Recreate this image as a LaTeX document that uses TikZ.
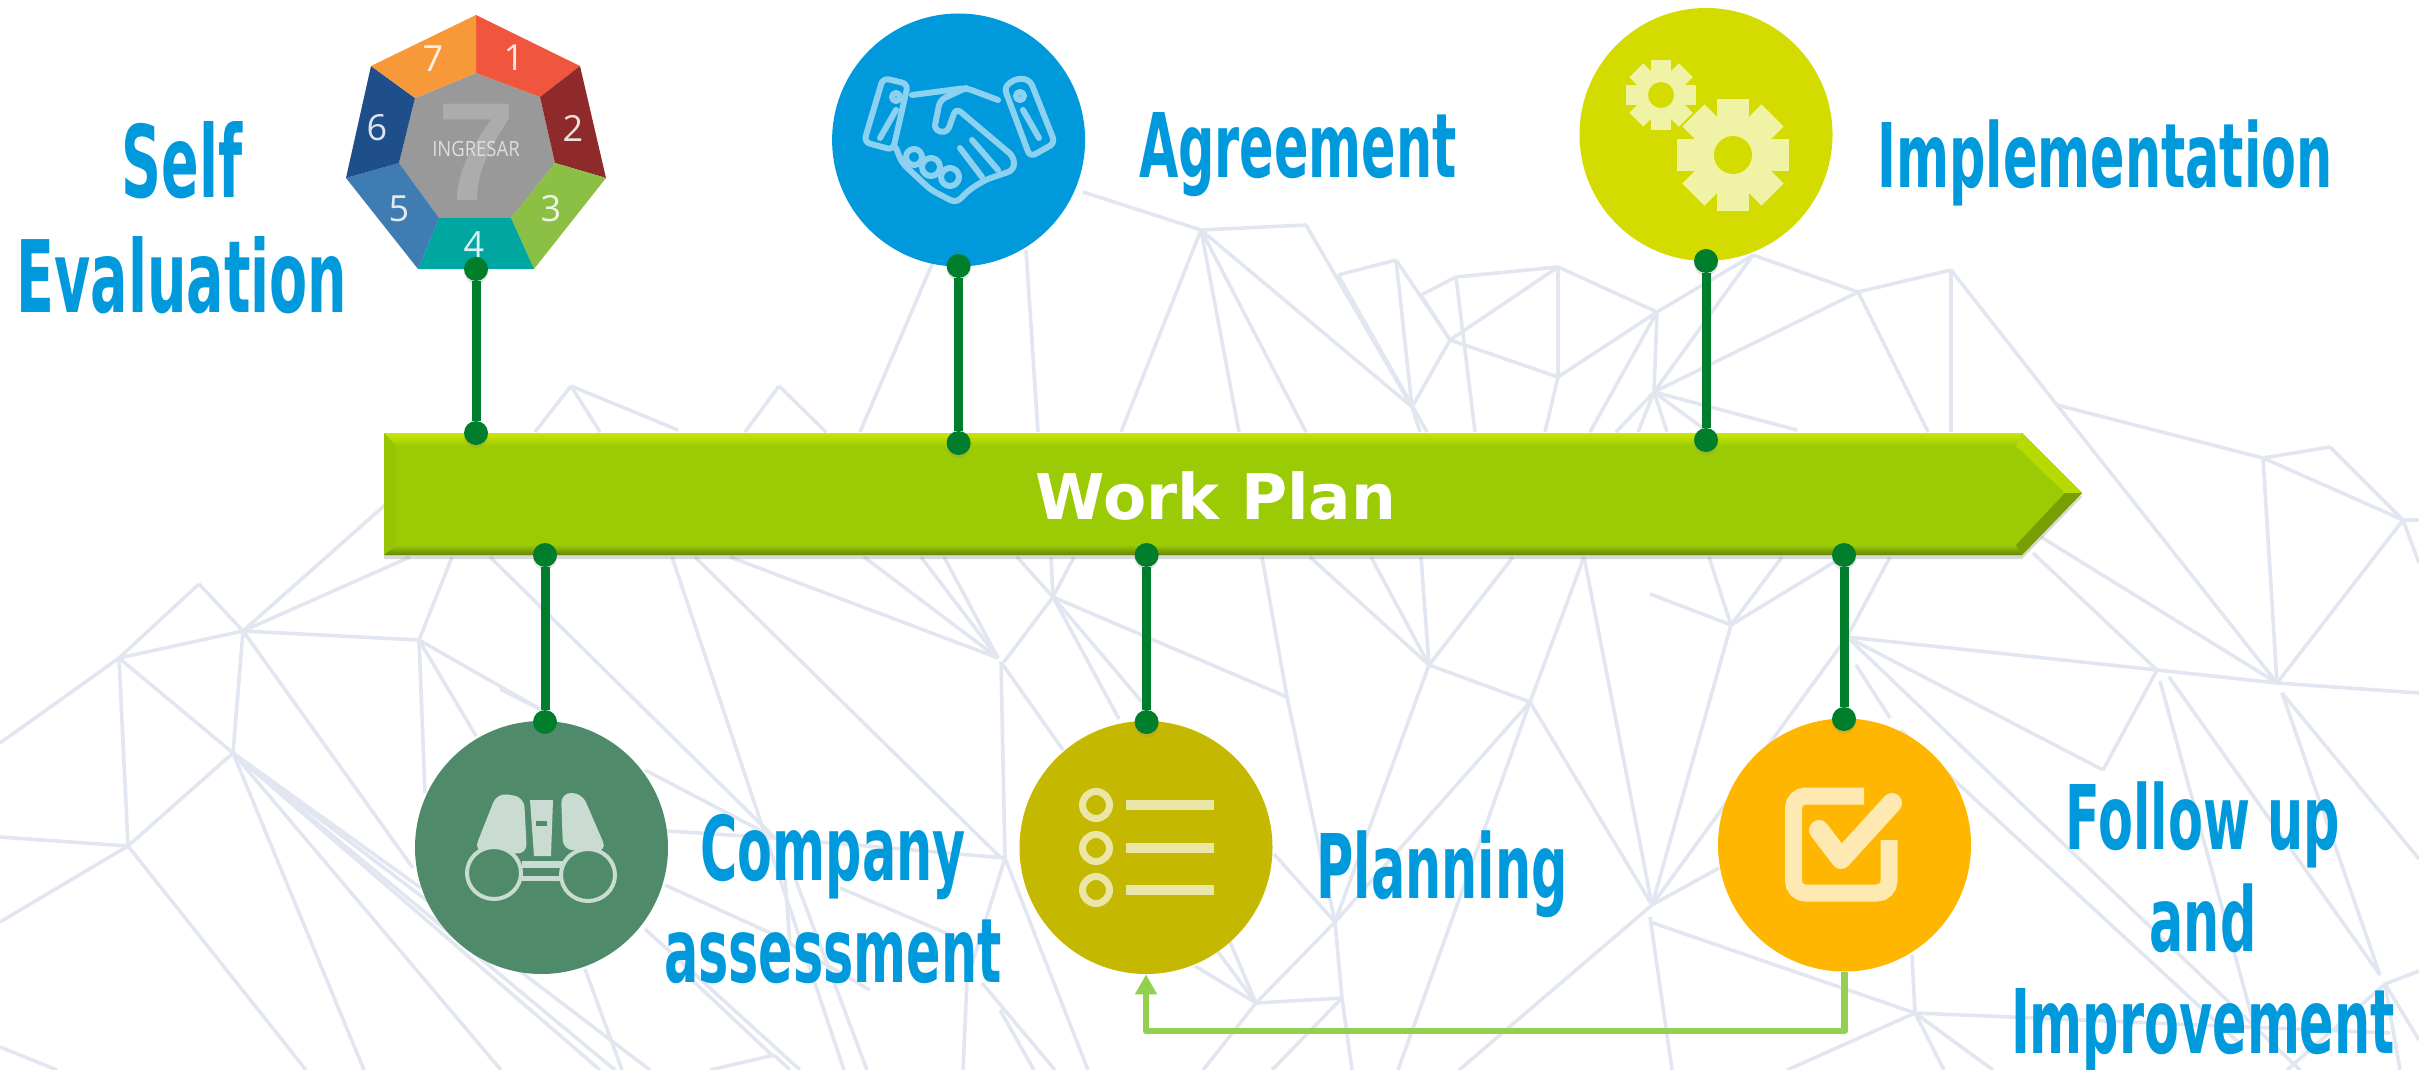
\documentclass[tikz,border=0pt]{standalone}
\usepackage{fontspec}
\usetikzlibrary{arrows.meta,shadows}
\setmainfont{Liberation Sans}
\newfontfamily\headfont[FakeStretch=0.57]{DejaVu Sans}
\newfontfamily\selffont[FakeStretch=0.555]{DejaVu Sans}
\newfontfamily\barfont{DejaVu Sans}
\newfontfamily\sevenfont{Open Sans}
\definecolor{meshgray}{HTML}{E1E6F1}
\definecolor{headblue}{HTML}{0099DC}
\definecolor{pinegreen}{HTML}{007E2B}
\definecolor{barlime}{HTML}{9BCB04}
\definecolor{feedlime}{HTML}{92D050}
\definecolor{agreeblue}{HTML}{0099DC}
\definecolor{implyellow}{HTML}{D3DB00}
\definecolor{compgreen}{HTML}{4F8B6A}
\definecolor{planolive}{HTML}{C5B800}
\definecolor{followamber}{HTML}{FFB600}
\definecolor{sevenone}{HTML}{F0563D}
\definecolor{seventwo}{HTML}{8E2A2B}
\definecolor{seventhree}{HTML}{8CC044}
\definecolor{sevenfour}{HTML}{00A6A0}
\definecolor{sevenfive}{HTML}{3E7CB1}
\definecolor{sevensix}{HTML}{1E4F8B}
\definecolor{sevenseven}{HTML}{F79839}
\tikzset{
    meshline/.style={meshgray, line width=1.8pt},
    bubble/.style={circle, minimum size=126.5pt, inner sep=0pt},
    heading/.style={headblue, align=center, inner sep=0pt, font=\headfont\bfseries\fontsize{44.6}{51}\selectfont},
    pindot/.style={circle, fill=pinegreen, minimum size=12pt, inner sep=0pt,
        drop shadow={shadow xshift=0pt, shadow yshift=-1.5pt, opacity=.2}},
    stem/.style={pinegreen, line width=4.5pt},
    feedback/.style={feedlime, line width=3.4pt, line join=round, -{Triangle[width=10.5pt,length=10pt]}},
    sevendigit/.style={white, opacity=.85, inner sep=0pt, font=\sevenfont\fontsize{18}{18}\selectfont}
}
\newcommand{\gearicon}[4]{
    \fill[#4] (#1) circle (#2*.74);
    \foreach \ang in {0,45,...,315}
        \draw[#4, line width=#2*.28pt] (#1) -- ++(\ang:#2);
    \fill[implyellow] (#1) circle (#3);
}
\begin{document}
\begin{tikzpicture}[x=0.5pt,y=-0.5pt]
    \useasboundingbox (0,0) rectangle (2419,1070);
    \clip (0,0) rectangle (2419,1070);
    \foreach \xa/\ya/\xb/\yb in {
        119/658/0/743, 119/658/199/584, 199/584/243/631, 119/658/243/631, 243/631/419/640,
        119/658/128/846, 119/658/233/753, 243/631/233/753, 233/753/128/846, 128/846/0/837,
        128/846/0/922, 243/631/385/505, 243/631/410/557, 419/640/452/557, 419/640/476/736,
        419/640/540/709, 419/640/425/793, 243/631/413/868, 233/753/421/888, 233/753/600/1070,
        233/753/364/1070, 233/753/501/1070, 233/753/650/1070, 233/753/615/1070, 128/846/306/1070,
        0/1047/57/1070, 490/557/775/838, 585/969/622/1070, 500/689/540/709,
        1001/662/1005/858, 672/557/844/1070, 695/557/1001/858, 730/557/998/658, 864/557/998/658,
        921/557/998/658, 944/557/998/658, 1053/597/1051/557, 1053/597/1074/557, 1053/597/1017/557,
        1053/597/1004/662, 1001/662/1063/750, 645/770/775/838, 668/831/775/838, 775/838/1005/858,
        785/878/790/945, 795/878/867/1070, 665/885/775/935, 775/935/870/990, 645/929/800/1070,
        840/888/960/939, 1005/858/967/980, 967/980/963/1070, 1005/858/1088/1070, 982/983/1055/1070,
        691/979/774/1057, 710/1070/774/1055, 774/1055/790/1070,
        1053/597/1287/697, 1053/597/1142/702, 1053/597/1119/719, 1287/697/1335/922, 1262/557/1287/697,
        1310/557/1429/665, 1371/557/1429/665, 1421/557/1429/665, 1513/557/1429/665, 1429/665/1335/922,
        1429/665/1530/702, 1530/702/1335/922, 1530/702/1398/1070, 1530/702/1584/557, 1584/557/1652/905,
        1530/702/1652/905, 1652/905/1459/1070, 1335/922/1342/998, 1342/998/1352/1070, 1256/1003/1342/998,
        1335/922/1256/1003, 1274/854/1335/922, 1218/952/1256/1003, 1230/942/1256/1003, 1195/966/1256/1003,
        1256/1003/1203/1070, 1342/998/1272/1070, 1000/1010/1034/1070,
        1083/192/1201/230, 1201/230/1306/225, 1026/250/1038/432, 1201/230/1121/432, 1201/230/1239/432,
        1201/230/1306/432, 1201/230/1412/407, 1306/225/1412/407, 1338/275/1396/260, 1338/275/1427/432,
        1396/260/1412/407, 1396/260/1450/340, 1421/295/1456/277, 1421/295/1450/340, 1456/277/1558/267,
        1456/277/1475/432, 1558/267/1450/340, 1558/267/1558/377, 1450/340/1558/377, 1450/340/1412/407,
        1412/407/1420/432, 1558/377/1545/432, 1558/267/1657/312, 1657/312/1558/377, 1657/312/1753/255,
        1657/312/1654/392, 1657/312/1590/432, 1654/392/1616/432, 1654/392/1638/432, 1654/392/1667/432,
        1654/392/1797/430, 1654/392/1708/432, 1654/392/1753/255, 1654/392/1858/292, 1753/255/1858/292,
        1858/292/1951/270, 1858/292/1928/432, 1951/270/1951/432, 1951/270/2057/405,
        933/262/860/432, 571/386/535/432, 571/386/600/432, 571/386/678/430, 779/386/745/432, 779/386/826/432,
        2057/405/2263/458, 2057/405/2277/683, 2263/458/2330/447, 2263/458/2403/520, 2330/447/2403/520,
        2263/458/2277/683, 2403/520/2277/683, 2403/520/2419/520, 2403/520/2419/563, 2041/537/2277/683,
        2033/553/2157/670, 1847/637/2157/670, 2157/670/2277/683, 2277/683/2419/693, 1890/557/1847/637,
        1731/625/1709/557, 1731/625/1782/557, 1731/625/1836/561, 1731/625/1650/594, 1731/625/1652/905,
        1652/905/1847/637, 1652/905/1719/868, 2157/670/2103/770, 1847/637/2103/770, 1847/637/2300/1070,
        1900/730/2238/1042, 1856/665/1890/718, 2160/681/2253/1021, 2169/677/2380/975, 2282/693/2380/975,
        2282/693/2419/859, 2385/984/2419/971, 2385/984/2287/1070, 2385/984/2400/1070, 2385/984/2419/1040,
        1915/1013/1912/955, 1915/1013/1650/922, 1915/1013/2390/1033, 1915/1013/1787/1070, 1915/1013/1993/1070,
        1915/1013/1944/1070, 1650/917/1672/1070}
        \draw[meshline] (\xa,\ya) -- (\xb,\yb);

    \fill[barlime, drop shadow={shadow xshift=0pt, shadow yshift=-2pt, opacity=.3}] (384,433) -- (2022,433) -- (2082,493) -- (2022,555) -- (384,555) -- cycle;
    \shade[top color=barlime!50!yellow, bottom color=barlime] (384,433) -- (2022,433) -- (2017,446) -- (396,446) -- cycle;
    \shade[top color=barlime, bottom color=barlime!65!black] (384,555) -- (2022,555) -- (2017,545) -- (396,545) -- cycle;
    \fill[barlime!97!black] (384,433) -- (396,446) -- (396,545) -- (384,555) -- cycle;
    \fill[barlime!72!yellow] (2022,433) -- (2082,493) -- (2065,493) -- (2016,446) -- cycle;
    \fill[barlime!78!black] (2082,493) -- (2022,555) -- (2016,545) -- (2065,493) -- cycle;
    \node[white, inner sep=0pt, anchor=base, font=\barfont\bfseries\fontsize{31.5}{32}\selectfont] (workplan) at (1216,519) {Work Plan};

    \coordinate (ho1) at (476,15);
    \coordinate (ho2) at (580,66);
    \coordinate (ho3) at (606,178);
    \coordinate (ho4) at (534,269);
    \coordinate (ho5) at (418,269);
    \coordinate (ho6) at (346,178);
    \coordinate (ho7) at (371,66);
    \coordinate (hi1) at (476,73);
    \coordinate (hi2) at (540,97);
    \coordinate (hi3) at (555,163);
    \coordinate (hi4) at (511,218);
    \coordinate (hi5) at (439,218);
    \coordinate (hi6) at (399,163);
    \coordinate (hi7) at (415,98);
    \fill[gray!80] (hi1) -- (hi2) -- (hi3) -- (hi4) -- (hi5) -- (hi6) -- (hi7) -- cycle;
    \foreach \i/\j/\c in {1/2/sevenone, 2/3/seventwo, 3/4/seventhree, 4/5/sevenfour, 5/6/sevenfive, 6/7/sevensix, 7/1/sevenseven}
        \fill[\c] (ho\i) -- (ho\j) -- (hi\j) -- (hi\i) -- cycle;
    \node[gray!65!white, inner sep=0pt, font=\bfseries\fontsize{70}{70}\selectfont] (bigseven) at (476,152) {7};
    \node[white!87!black, inner sep=0pt, font=\sevenfont\fontsize{10.5}{10.5}\selectfont] (enter) at (476,149) {\scalebox{.88}[1]{INGRESAR}};
    \node[sevendigit] (one) at (514,58) {1};
    \node[sevendigit] (two) at (573,128) {2};
    \node[sevendigit] (three) at (551,209) {3};
    \node[sevendigit] (four) at (474,245) {4};
    \node[sevendigit] (five) at (399,209) {5};
    \node[sevendigit] (six) at (377,128) {6};
    \node[sevendigit] (seven) at (433,59) {7};

    \node[bubble, fill=agreeblue] (agree) at (958.6,140) {};
    \node[bubble, fill=implyellow] (impl) at (1706,134.5) {};
    \node[bubble, fill=compgreen] (comp) at (541.5,847.5) {};
    \node[bubble, fill=planolive] (plan) at (1146,847.5) {};
    \node[bubble, fill=followamber] (follow) at (1844.5,845) {};

    \draw[feedback] (follow.south) -- ++(0,59) -| (plan.south);

    \begin{scope}[agreeblue!45!white, line width=3pt, line join=round, line cap=round, rounded corners=3pt]
        \draw (883,78) -- (908,84) -- (893,150) -- (864,142) -- cycle;
        \draw (1017,78) -- (1030,80) -- (1055,143) -- (1030,157) -- (1004,87) -- cycle;
        \draw (896,110) -- (880,138);
        \draw (1023,110) -- (1039,138);
        \draw (896,97) circle (4);
        \draw (1020,96) circle (4);
        \draw (912,95) -- (966,88) -- (998,100);
        \draw (966,88) -- (940,100) -- (934,130) -- (947,133) -- (956,108) -- (1014,157) -- (1014,170) -- (985,180) -- (969,190) -- (956,203) -- (931,190) -- (902,163) -- (896,148);
        \draw (960,148) -- (982,177);
        \draw (972,140) -- (998,170);
        \draw (914,157) circle (8);
        \draw (931,167) circle (9);
        \draw (950,177) circle (9);
    \end{scope}

    \gearicon{1661,95}{35}{13}{implyellow!35!white}
    \gearicon{1733,155}{56}{19}{implyellow!35!white}

    \begin{scope}[rounded corners=5pt]
        \fill[compgreen!30!white] (497,793) -- (524,797) -- (527,854) -- (474,851) -- cycle;
        \fill[compgreen!30!white] (561,793) -- (582,793) -- (607,851) -- (563,850) -- cycle;
    \end{scope}
    \fill[compgreen!30!white] (530,800) -- (553,800) -- (551,856) -- (534,856) -- cycle;
    \fill[compgreen] (536,821) rectangle (547,826);
    \fill[compgreen!30!white] (522,861) rectangle (565,868);
    \fill[compgreen!30!white] (522,876) rectangle (565,881);
    \draw[compgreen!30!white, fill=compgreen, line width=2pt] (494,873) ellipse (27 and 26);
    \draw[compgreen!30!white, fill=compgreen, line width=2pt] (588,875) ellipse (27 and 26);

    \foreach \yy in {805,848,890} {
        \draw[planolive!35!white, line width=3.5pt] (1096,\yy) circle (13.5);
        \fill[planolive!35!white] (1126,\yy-5) rectangle (1214,\yy+5);
    }

    \draw[followamber!30!white, line width=8.5pt, rounded corners=6pt] (1864,796) -- (1793.5,796) -- (1793.5,893) -- (1889,893) -- (1889,840);
    \draw[followamber!30!white, line width=10pt, line cap=round, line join=round] (1819,830) -- (1841,859) -- (1892,803);

    \node[pindot] (selftop) at (476,269) {};
    \node[pindot] (selfbar) at (476,433) {};
    \node[pindot] (agreetop) at (958.6,266) {};
    \node[pindot] (agreebar) at (958.6,443) {};
    \node[pindot] (impltop) at (1706,261) {};
    \node[pindot] (implbar) at (1706,440) {};
    \node[pindot] (compbar) at (545,555) {};
    \node[pindot] (comptop) at (545,722) {};
    \node[pindot] (planbar) at (1146.6,555) {};
    \node[pindot] (plantop) at (1146.6,722) {};
    \node[pindot] (followbar) at (1844,555) {};
    \node[pindot] (followtop) at (1844,719) {};
    \foreach \u/\v in {selftop/selfbar, agreetop/agreebar, impltop/implbar, compbar/comptop, planbar/plantop, followbar/followtop}
        \draw[stem] (\u) -- (\v);

    \node[heading, font=\selffont\bfseries\fontsize{50}{57.5}\selectfont] (selflabel) at (182,218) {Self\\Evaluation};
    \node[heading] (agreelabel) at (1298,155) {Agreement};
    \node[heading] (impllabel) at (2105,163) {Implementation};
    \node[heading] (complabel) at (833,899) {Company\\assessment};
    \node[heading] (planlabel) at (1442,874) {Planning};
    \node[heading] (followlabel) at (2203,927) {Follow up\\and\\Improvement};
\end{tikzpicture}
\end{document}
